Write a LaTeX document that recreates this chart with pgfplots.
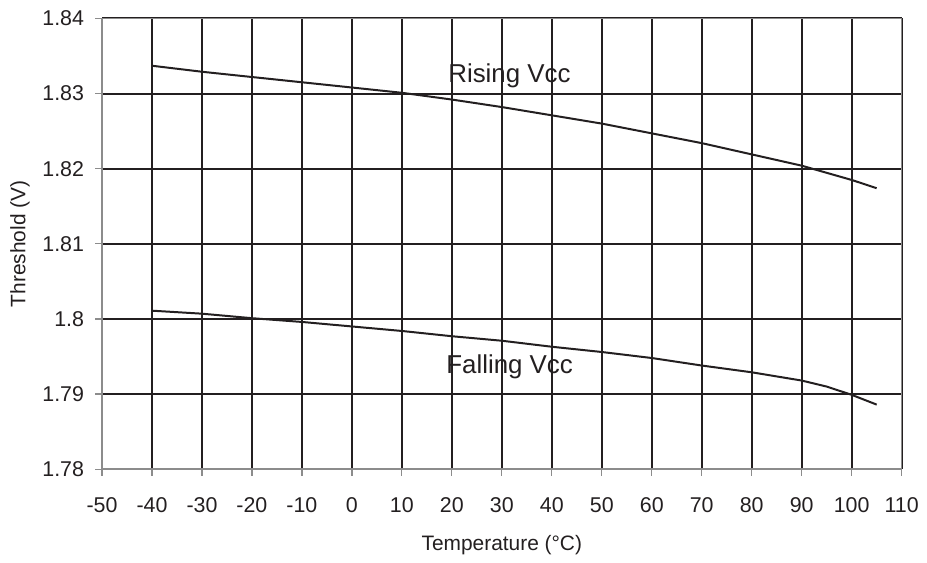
\documentclass[border=0pt]{standalone}
\usepackage{pgfplots}
\pgfplotsset{compat=1.18}
\usepackage{fontspec}
\setmainfont{Liberation Sans}
\definecolor{ink}{HTML}{231F20}
\definecolor{framegray}{HTML}{8C8C8C}

\begin{document}
\begin{tikzpicture}
\begin{axis}[
    scale only axis,
    width=321.4pt, height=181.2pt,
    xmin=-50, xmax=110,
    ymin=1.78, ymax=1.84,
    xtick={-50,-40,-30,-20,-10,0,10,20,30,40,50,60,70,80,90,100,110},
    xticklabels={-50,-40,-30,-20,-10,0,10,20,30,40,50,60,70,80,90,100,110},
    ytick={1.78,1.79,1.8,1.81,1.82,1.83,1.84},
    yticklabels={1.78,1.79,1.8,1.81,1.82,1.83,1.84},
    grid=major,
    major grid style={ink, line width=0.8pt},
    axis line style={framegray, line width=0.6pt},
    tick align=outside, tick pos=left,
    major tick length=2.7pt,
    tick style={framegray, line width=0.5pt},
    ticklabel style={font=\fontsize{8.6}{10}\selectfont, text=ink},
    xticklabel shift=5pt, yticklabel shift=1pt,
    xlabel={Temperature (°C)},
    ylabel={Threshold (V)},
    label style={font=\fontsize{8.4}{10}\selectfont, text=ink},
    xlabel style={at={(axis description cs:0.5,-0.1799)}, anchor=base},
    ylabel style={at={(axis description cs:-0.0958,0.5)}, anchor=base},
]

% Rising Vcc threshold
\addplot[ink, line width=0.8pt] coordinates {
    (-40,1.8337) (-30,1.8329) (-20,1.8322) (-10,1.8315) (0,1.8308)
    (10,1.8301) (20,1.8292) (30,1.8282) (40,1.8271) (50,1.8260)
    (60,1.8247) (70,1.8234) (80,1.8219) (90,1.8204) (100,1.8185) (105,1.8174)
};

% Falling Vcc threshold
\addplot[ink, line width=0.8pt] coordinates {
    (-40,1.8011) (-30,1.8007) (-20,1.8001) (-10,1.7996) (0,1.7990)
    (10,1.7984) (20,1.7977) (30,1.7971) (40,1.7963) (50,1.7956)
    (60,1.7948) (70,1.7938) (80,1.7929) (90,1.7918) (95,1.7910)
    (100,1.7899) (105,1.7886)
};

\node[anchor=base west, inner sep=0pt, font=\fontsize{10.4}{12}\selectfont, text=ink]
    at (axis cs:19.2,1.8315) {Rising Vcc};
\node[anchor=base west, inner sep=0pt, font=\fontsize{10.4}{12}\selectfont, text=ink]
    at (axis cs:18.8,1.7927) {Falling Vcc};
\end{axis}

% page size: same margins round the plot box as the reference
\path (current axis.south west) ++(-41pt,-34.6pt) coordinate (bl);
\path (current axis.north east) ++(8.4pt,7.4pt) coordinate (tr);
\path (bl) rectangle (tr);
\end{tikzpicture}
\end{document}
